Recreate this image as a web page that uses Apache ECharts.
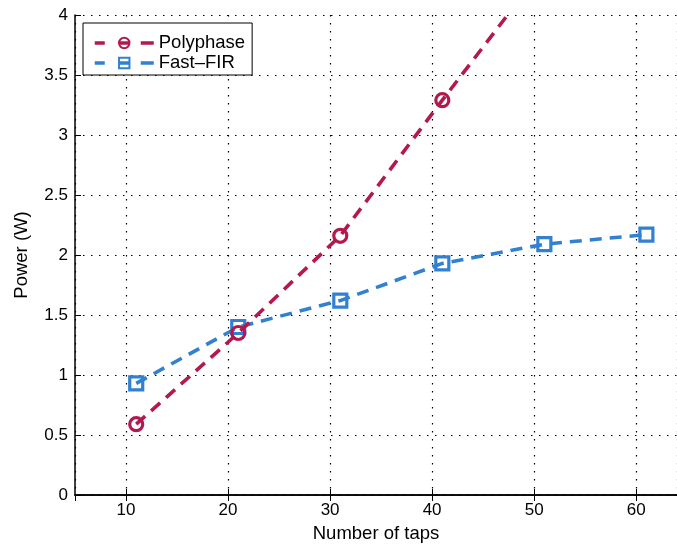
<!DOCTYPE html>
<html>
<head>
<meta charset="utf-8">
<script src="https://cdn.jsdelivr.net/npm/echarts@6/dist/echarts.min.js"></script>
<style>
  html, body { margin: 0; padding: 0; background: #fff; }
  #chart { width: 677px; height: 548px; }
</style>
</head>
<body>
<div id="chart"></div>
<script>
// Number of filter taps
const taps = [11, 21, 31, 41, 51, 61];
// Power consumption (W) of each architecture
const polyphase = [0.59, 1.35, 2.16, 3.29, 4.40];
const fastFir = [0.93, 1.40, 1.62, 1.93, 2.09, 2.17];
// Axis tick labels
const yTicks = [0, 0.5, 1, 1.5, 2, 2.5, 3, 3.5, 4];

const red = '#b3184f';
const blue = '#3181d0';
const font = 'Liberation Sans, Arial, Helvetica, sans-serif';

const pairs = (xs, ys) => ys.map((y, i) => [xs[i], y]);

const chart = echarts.init(document.getElementById('chart'), null, { renderer: 'canvas' });

const dotted = { show: true, lineStyle: { color: '#000', width: 1.2, type: [1.5, 6.5] } };
// legend sample: short dash, marker with a bar through it, short dash
const legendDash = [10, 14, 11, 11, 13, 50];

chart.setOption({
  animation: false,
  backgroundColor: '#fff',
  grid: { left: 75, top: 15, bottom: 51, right: 0, containLabel: false },
  legend: {
    orient: 'vertical',
    left: 83,
    top: 23,
    backgroundColor: '#fff',
    borderColor: '#000',
    borderWidth: 1,
    borderRadius: 0,
    padding: [10, 7, 2, 10],
    itemGap: 0,
    itemWidth: 59,
    itemHeight: 13,
    textStyle: { fontFamily: font, fontSize: 18.5, color: '#000', lineHeight: 20 },
    data: [
      { name: 'Polyphase', lineStyle: { type: legendDash, width: 3.5 } },
      { name: 'Fast–FIR', lineStyle: { type: legendDash, width: 3.5 } }
    ]
  },
  xAxis: [{
    type: 'value',
    min: 5,
    max: 64,
    splitNumber: 6,
    name: 'Number of taps',
    nameLocation: 'middle',
    nameGap: 29,
    nameTextStyle: { fontFamily: font, fontSize: 18.5, color: '#000' },
    axisLine: { show: true, onZero: false, lineStyle: { color: '#000', width: 1.5 } },
    axisTick: { show: true, inside: true, length: 6, lineStyle: { color: '#000' } },
    axisLabel: { fontFamily: font, fontSize: 17, color: '#000', margin: 7, showMinLabel: false, showMaxLabel: false },
    splitLine: dotted
  }, {
    type: 'value',
    position: 'top',
    min: 5,
    max: 64,
    splitNumber: 6,
    axisLine: { show: true, lineStyle: { color: '#000', width: 1.5 } },
    axisTick: { show: true, inside: true, length: 6, lineStyle: { color: '#000' } },
    axisLabel: { show: false },
    splitLine: { show: false }
  }],
  yAxis: [{
    type: 'value',
    min: 0,
    max: 4,
    interval: 0.5,
    name: 'Power (W)',
    nameLocation: 'middle',
    nameGap: 44,
    nameTextStyle: { fontFamily: font, fontSize: 18.5, color: '#000' },
    axisLine: { show: true, lineStyle: { color: '#000', width: 1.5 } },
    axisTick: { show: true, inside: true, length: 6, lineStyle: { color: '#000' } },
    axisLabel: {
      fontFamily: font, fontSize: 17, color: '#000', margin: 7,
      formatter: v => (yTicks.includes(v) ? String(v) : '')
    },
    splitLine: dotted
  }],
  series: [{
    name: 'Polyphase',
    type: 'line',
    data: pairs(taps, polyphase),
    symbol: 'circle',
    symbolSize: 13,
    showAllSymbol: true,
    clip: true,
    lineStyle: { color: red, width: 3.6, type: [12, 8] },
    itemStyle: { color: 'rgba(255,255,255,0)', borderColor: red, borderWidth: 3.2 },
    z: 3
  }, {
    name: 'Fast–FIR',
    type: 'line',
    data: pairs(taps, fastFir),
    symbol: 'rect',
    symbolSize: 13,
    clip: true,
    lineStyle: { color: blue, width: 3.6, type: [12, 8] },
    itemStyle: { color: 'rgba(255,255,255,0)', borderColor: blue, borderWidth: 3.2 },
    z: 2
  }]
});
</script>
</body>
</html>
